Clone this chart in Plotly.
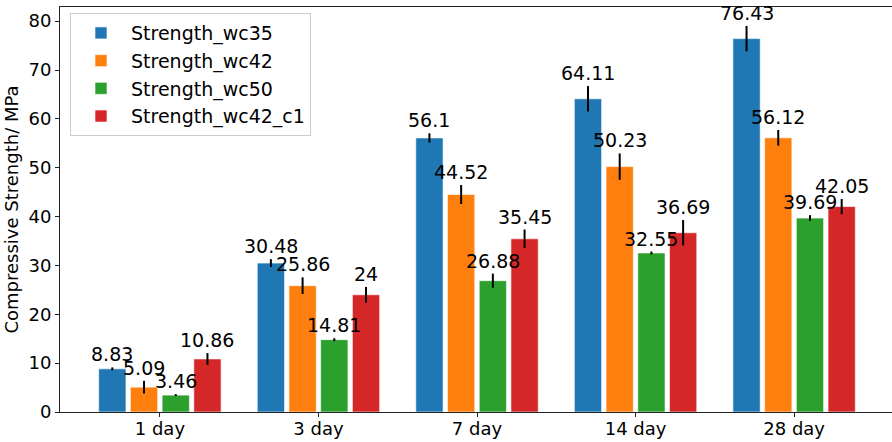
import plotly.graph_objects as go

categories = ["1 day", "3 day", "7 day", "14 day", "28 day"]
series_names = ["Strength_wc35", "Strength_wc42", "Strength_wc50", "Strength_wc42_c1"]
wc35 = [8.83, 30.48, 56.1, 64.11, 76.43]
wc42 = [5.09, 25.86, 44.52, 50.23, 56.12]
wc50 = [3.46, 14.81, 26.88, 32.55, 39.69]
wc42_c1 = [10.86, 24, 35.45, 36.69, 42.05]
err_wc35 = [0.3, 0.8, 0.95, 2.6, 2.6]
err_wc42 = [1.3, 1.7, 1.95, 2.7, 1.6]
err_wc50 = [0.2, 0.3, 1.45, 0.3, 0.6]
err_wc42_c1 = [1.2, 1.6, 1.9, 2.6, 1.55]
colors = ["#1f77b4", "#ff7f0e", "#2ca02c", "#d62728"]

values = [wc35, wc42, wc50, wc42_c1]
errors = [err_wc35, err_wc42, err_wc50, err_wc42_c1]
group_step = 0.2
bar_w = 0.172
font_family = "DejaVu Sans"

fig = go.Figure()
annotations = []
for k, (name, vals, errs, col) in enumerate(zip(series_names, values, errors, colors)):
    off = (k - 1.5) * group_step
    xs = [i + off for i in range(len(categories))]
    fig.add_trace(go.Bar(
        x=xs, y=vals, width=bar_w, name=name, legendgroup=name,
        marker=dict(color=col, line=dict(color="rgba(255,255,255,0.6)", width=1)),
        error_y=dict(type="data", array=errs, visible=True, color="black", thickness=2, width=0),
    ))
    for x, v, e in zip(xs, vals, errs):
        annotations.append(dict(
            x=x, y=v + e, xref="x", yref="y", text=f"{v:g}", showarrow=False,
            yanchor="bottom", xanchor="center", yshift=0,
            font=dict(family=font_family, size=19, color="black"),
        ))

fig.update_layout(
    width=900, height=442,
    margin=dict(l=60, r=6, t=7, b=30, autoexpand=False),
    plot_bgcolor="white", paper_bgcolor="white",
    barmode="overlay",
    font=dict(family=font_family, size=18, color="black"),
    annotations=annotations,
    legend=dict(
        x=0.012, y=0.985, xanchor="left", yanchor="top",
        bgcolor="rgba(255,255,255,0.8)", bordercolor="#cccccc", borderwidth=1,
        font=dict(family=font_family, size=19), tracegroupgap=0,
        itemwidth=50,
    ),
    showlegend=True,
)
fig.update_xaxes(
    range=[-0.63, 4.63], tickvals=list(range(len(categories))), ticktext=categories,
    showline=True, linecolor="#222222", linewidth=1, mirror=True,
    ticks="outside", ticklen=4, tickcolor="#222222", showgrid=False, zeroline=False,
    tickfont=dict(size=18), automargin=False, ticklabelstandoff=-4,
)
fig.update_yaxes(
    range=[0, 82.9], dtick=10,
    showline=True, linecolor="#222222", linewidth=1, mirror=True,
    ticks="outside", ticklen=4, tickcolor="#222222", showgrid=False, zeroline=False,
    title=dict(text="Compressive Strength/ MPa", font=dict(size=18), standoff=5),
    tickfont=dict(size=18), automargin=False,
)

fig.write_html(
    "out.html",
    config={"displayModeBar": False},
    post_script="document.body.style.margin='0px';document.body.style.overflow='hidden';",
)
